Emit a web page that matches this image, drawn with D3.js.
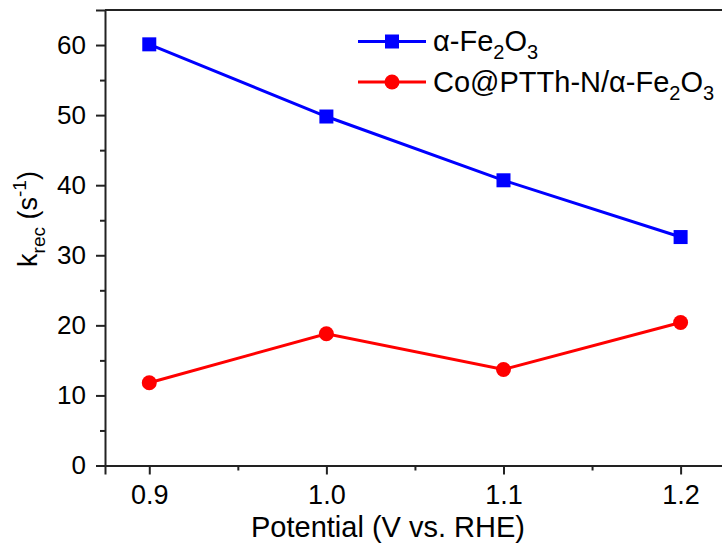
<!DOCTYPE html>
<html>
<head>
<meta charset="utf-8">
<script src="https://cdn.jsdelivr.net/npm/d3@7"></script>
<style>
  body { margin: 0; background: #fff; }
  svg text { font-family: "Liberation Sans", Arial, sans-serif; fill: #000; }
</style>
</head>
<body>
<div class="canvas"></div>
<script>
// data
const potentials = [0.9, 1.0, 1.1, 1.2];
const fe2o3 = [60.1, 49.8, 40.7, 32.6];
const coFe2o3 = [11.8, 18.8, 13.7, 20.4];
const xTicks = [0.9, 1.0, 1.1, 1.2];
const xMinor = [0.95, 1.05, 1.15];
const yTicks = [0, 10, 20, 30, 40, 50, 60];
const yMinor = [5, 15, 25, 35, 45, 55];

// dimensions
const dims = { width: 722, height: 546 };
const plot = { left: 105, top: 10, right: 724, bottom: 465.5 };

const svg = d3.select('.canvas')
  .append('svg')
  .attr('width', dims.width)
  .attr('height', dims.height);

const x = d3.scaleLinear().domain([0.875, 1.2245]).range([plot.left, plot.right]);
const y = d3.scaleLinear().domain([0, 65]).range([plot.bottom, plot.top]);

// frame: top line only (right side is cut off)
svg.append('line')
  .attr('x1', plot.left).attr('x2', dims.width)
  .attr('y1', plot.top).attr('y2', plot.top)
  .attr('stroke', '#222').attr('stroke-width', 2);

// x axis
const xAxis = svg.append('g')
  .attr('transform', `translate(0, ${plot.bottom})`)
  .call(d3.axisBottom(x).tickValues(xTicks).tickFormat(d3.format('.1f')).tickSizeOuter(0).tickSize(9).tickPadding(10));

svg.append('g')
  .attr('transform', `translate(0, ${plot.bottom})`)
  .call(d3.axisBottom(x).tickValues(xMinor).tickFormat('').tickSizeOuter(0).tickSize(5))
  .select('.domain').remove();

// y axis
const yAxis = svg.append('g')
  .attr('transform', `translate(${plot.left}, 0)`)
  .call(d3.axisLeft(y).tickValues(yTicks).tickSizeOuter(0).tickSize(9).tickPadding(10));

svg.append('g')
  .attr('transform', `translate(${plot.left}, 0)`)
  .call(d3.axisLeft(y).tickValues(yMinor).tickFormat('').tickSizeOuter(0).tickSize(5))
  .select('.domain').remove();

svg.selectAll('.domain').attr('stroke', '#222').attr('stroke-width', 2);
svg.selectAll('.tick line').attr('stroke', '#222').attr('stroke-width', 2);
xAxis.selectAll('.tick text').style('font-size', '27px').attr('fill', '#000');
yAxis.selectAll('.tick text').style('font-size', '26px').attr('fill', '#000');

// axis titles
svg.append('text')
  .attr('x', 388).attr('y', 537)
  .attr('text-anchor', 'middle')
  .style('font-size', '29px')
  .text('Potential (V vs. RHE)');

const yTitle = svg.append('text')
  .attr('transform', 'translate(37, 219) rotate(-90)')
  .attr('text-anchor', 'middle')
  .style('font-size', '27px');
yTitle.append('tspan').text('k');
yTitle.append('tspan').attr('dy', 8).style('font-size', '19px').text('rec');
yTitle.append('tspan').attr('dy', -8).text(' (s');
yTitle.append('tspan').attr('dy', -11).style('font-size', '19px').text('-1');
yTitle.append('tspan').attr('dy', 11).text(')');

// lines
const line = d3.line()
  .x((d, i) => x(potentials[i]))
  .y(d => y(d));

const series = [
  { name: 'fe', values: fe2o3, color: '#0000ff', shape: 'square' },
  { name: 'co', values: coFe2o3, color: '#ff0000', shape: 'circle' }
];

series.forEach(s => {
  svg.append('path')
    .datum(s.values)
    .attr('fill', 'none')
    .attr('stroke', s.color)
    .attr('stroke-width', 3)
    .attr('d', line);

  if (s.shape === 'square') {
    svg.selectAll(`.m-${s.name}`)
      .data(s.values)
      .enter().append('rect')
      .attr('x', (d, i) => x(potentials[i]) - 7)
      .attr('y', d => y(d) - 7)
      .attr('width', 14).attr('height', 14)
      .attr('fill', s.color);
  } else {
    svg.selectAll(`.m-${s.name}`)
      .data(s.values)
      .enter().append('circle')
      .attr('cx', (d, i) => x(potentials[i]))
      .attr('cy', d => y(d))
      .attr('r', 7.5)
      .attr('fill', s.color);
  }
});

// legend
const legend = svg.append('g').attr('transform', 'translate(358, 0)');
legend.append('line').attr('x1', 0).attr('x2', 68).attr('y1', 41.5).attr('y2', 41.5)
  .attr('stroke', '#0000ff').attr('stroke-width', 3);
legend.append('rect').attr('x', 27).attr('y', 34.5).attr('width', 14).attr('height', 14).attr('fill', '#0000ff');
legend.append('line').attr('x1', 0).attr('x2', 68).attr('y1', 82).attr('y2', 82)
  .attr('stroke', '#ff0000').attr('stroke-width', 3);
legend.append('circle').attr('cx', 34).attr('cy', 82).attr('r', 7.5).attr('fill', '#ff0000');

const l1 = legend.append('text').attr('x', 75).attr('y', 51).style('font-size', '29px');
l1.append('tspan').text('α-Fe');
l1.append('tspan').attr('dy', 8).style('font-size', '20px').text('2');
l1.append('tspan').attr('dy', -8).text('O');
l1.append('tspan').attr('dy', 8).style('font-size', '20px').text('3');

const l2 = legend.append('text').attr('x', 75).attr('y', 92).style('font-size', '29px');
l2.append('tspan').text('Co@PTTh-N/α-Fe');
l2.append('tspan').attr('dy', 8).style('font-size', '20px').text('2');
l2.append('tspan').attr('dy', -8).text('O');
l2.append('tspan').attr('dy', 8).style('font-size', '20px').text('3');
</script>
</body>
</html>
